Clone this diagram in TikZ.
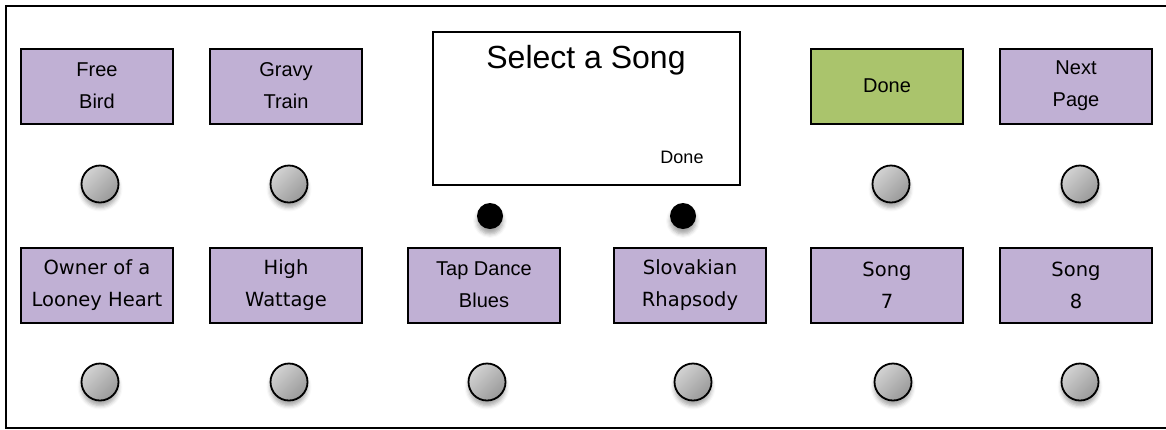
\documentclass[tikz,border=0pt]{standalone}
\usepackage{fontspec}
\setmainfont{Liberation Sans}
\newfontfamily\lucidafont{DejaVu Sans}
\usetikzlibrary{shadows.blur}
\definecolor{SongPurple}{RGB}{192,176,212}
\definecolor{DoneGreen}{RGB}{170,196,108}
\tikzset{
  songbox/.style={draw=black, line width=2pt, fill=SongPurple, minimum width=152pt, minimum height=75pt, inner sep=0pt, align=center, font=\fontsize{20}{32}\selectfont},
  lucidabox/.style={songbox, font=\lucidafont\fontsize{19.5}{32}\selectfont},
  knob/.style={circle, draw=black, line width=1.8pt, minimum size=37pt, inner sep=0pt, top color=gray!35, bottom color=gray!80, shading angle=45, blur shadow={shadow xshift=0pt, shadow yshift=-5pt, shadow opacity=35, shadow blur radius=4pt}},
  pushdot/.style={circle, fill=black, minimum size=26pt, inner sep=0pt, blur shadow={shadow xshift=0pt, shadow yshift=-5pt, shadow opacity=35, shadow blur radius=4pt}}
}
\begin{document}
\begin{tikzpicture}[x=1pt, y=-1pt]
    \useasboundingbox (0,0) rectangle (1166,429);
    \coordinate (FrameTopEnd)    at (1170,6);
    \coordinate (FrameBottomEnd) at (1170,428);
    \draw [line width=2pt] (FrameTopEnd) -- (6,6) -- (6,428) -- (FrameBottomEnd);% Draw the panel frame
    % top row
    \node [songbox] (FreeBird)   at (97,86)   {Free\\Bird};
    \node [songbox] (GravyTrain) at (286,86)  {Gravy\\Train};
    \node [songbox, fill=DoneGreen] (DoneKey) at (887,86) {Done};
    \node [songbox] (NextPage)   at (1076,86) {Next\\Page};
    % screen
    \node [draw=black, line width=2pt, minimum width=307pt, minimum height=153pt] (Screen) at (586.5,108.5) {};
    \node [font=\fontsize{32}{38}\selectfont] (ScreenTitle) at (586,60) {Select a Song};
    \node [font=\fontsize{18}{22}\selectfont] (ScreenDone) at (682,157) {Done};
    \node [pushdot] (DotLeft)  at (490,216) {};
    \node [pushdot] (DotRight) at (683,216) {};
    % bottom row
    \node [lucidabox] (OwnerHeart) at (97,285)  {Owner of a\\Looney Heart};
    \node [lucidabox] (HighWatt)   at (286,285) {High\\Wattage};
    \node [songbox]   (TapDance)   at (484,285) {Tap Dance\\Blues};
    \node [lucidabox] (Slovakian)  at (690,285) {Slovakian\\Rhapsody};
    \node [lucidabox] (SongSeven)  at (887,285) {Song\\7};
    \node [lucidabox] (SongEight)  at (1076,285) {Song\\8};
    % knobs
    \foreach \knobname/\x in {FreeBird/100, GravyTrain/289, DoneKey/891, NextPage/1080}
      \node [knob] (Knob\knobname) at (\x,184) {};
    \foreach \knobname/\x in {OwnerHeart/100, HighWatt/289, TapDance/487, Slovakian/693, SongSeven/893, SongEight/1080}
      \node [knob] (Knob\knobname) at (\x,382) {};
  \end{tikzpicture}
\end{document}
